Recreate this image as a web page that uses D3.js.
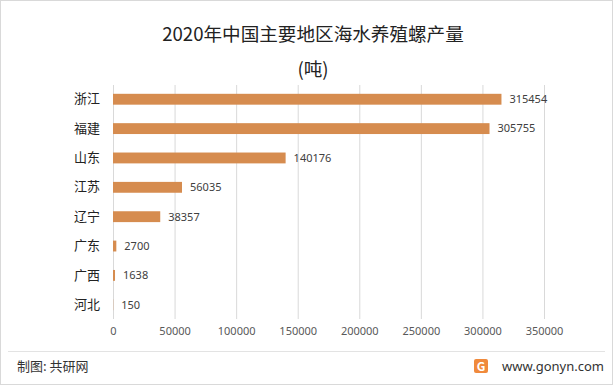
<!DOCTYPE html>
<html>
<head>
<meta charset="utf-8">
<script src="https://cdn.jsdelivr.net/npm/d3@7"></script>
<style>
  body { margin: 0; background: #fff; }
  text { font-family: "Noto Sans CJK SC", "Noto Sans", sans-serif; }
</style>
</head>
<body>
<svg width="613" height="385"></svg>
<script>
var regions = ["浙江", "福建", "山东", "江苏", "辽宁", "广东", "广西", "河北"];
var output = [315454, 305755, 140176, 56035, 38357, 2700, 1638, 150];
var ticks = [0, 50000, 100000, 150000, 200000, 250000, 300000, 350000];

var svg = d3.select("svg"),
    width = +svg.attr("width"),
    height = +svg.attr("height"),
    margin = {top: 85, right: 69, bottom: 66, left: 113};

// outer frame
svg.append("rect")
    .attr("x", 0.5).attr("y", 0.5)
    .attr("width", width - 1).attr("height", height - 1)
    .attr("fill", "#fff").attr("stroke", "#d9d9d9");

svg.append("text")
    .attr("x", 313).attr("y", 41)
    .attr("text-anchor", "middle")
    .attr("font-size", 18.6).attr("fill", "#222")
    .text("2020年中国主要地区海水养殖螺产量");
svg.append("text")
    .attr("x", 313).attr("y", 76)
    .attr("text-anchor", "middle")
    .attr("font-size", 18.6).attr("fill", "#222")
    .text("(吨)");

var x = d3.scaleLinear()
    .domain([0, 350000])
    .range([margin.left, width - margin.right]);

var y = d3.scaleBand()
    .domain(regions)
    .range([margin.top, height - margin.bottom])
    .paddingInner(0.63)
    .paddingOuter(0.3);

// gridlines
svg.append("g")
    .selectAll("line")
    .data(ticks)
    .enter().append("line")
    .attr("x1", d => x(d) + 0.5).attr("x2", d => x(d) + 0.5)
    .attr("y1", margin.top).attr("y2", height - margin.bottom)
    .attr("stroke", "#d9d9d9");

var xAxis = svg.append("g")
    .attr("transform", "translate(0," + (height - margin.bottom) + ")")
    .call(d3.axisBottom(x).tickValues(ticks).tickSize(0).tickPadding(8).tickFormat(d3.format("d")));
xAxis.select(".domain").remove();
xAxis.selectAll("text")
    .attr("font-size", 11).attr("fill", "#595959")
    .style("font-family", "'Noto Sans', sans-serif");

var yAxis = svg.append("g")
    .attr("transform", "translate(" + (margin.left - 13) + ",0)")
    .call(d3.axisLeft(y).tickSize(0).tickPadding(0));
yAxis.select(".domain").remove();
yAxis.selectAll("text")
    .attr("font-size", 13).attr("fill", "#222");

var bar = svg.append("g")
    .selectAll(".bar")
    .data(regions)
    .enter().append("g")
    .attr("class", "bar");

bar.append("rect")
    .attr("x", x(0))
    .attr("y", d => y(d))
    .attr("height", y.bandwidth())
    .attr("width", (d, i) => x(output[i]) - x(0))
    .attr("fill", "#d68c4f");

bar.append("text")
    .attr("x", (d, i) => x(output[i]) + 8)
    .attr("y", d => y(d) + y.bandwidth() / 2)
    .attr("dy", "0.35em")
    .attr("font-size", 11).attr("fill", "#404040")
    .style("font-family", "'Noto Sans', sans-serif")
    .text((d, i) => output[i]);

// footer
svg.append("line")
    .attr("x1", 8).attr("x2", width - 8)
    .attr("y1", 351.5).attr("y2", 351.5)
    .attr("stroke", "#e3e3e3");
svg.append("text")
    .attr("x", 17).attr("y", 371)
    .attr("font-size", 13).attr("fill", "#333")
    .text("制图: 共研网");

var logo = svg.append("g").attr("transform", "translate(474,359)");
logo.append("rect")
    .attr("width", 14).attr("height", 14).attr("rx", 2)
    .attr("fill", "#f08a3c");
logo.append("text")
    .attr("x", 7).attr("y", 11.5)
    .attr("text-anchor", "middle")
    .attr("font-size", 12).attr("font-weight", "bold").attr("fill", "#fff")
    .text("G");
svg.append("text")
    .attr("x", 604).attr("y", 371)
    .attr("text-anchor", "end")
    .attr("font-size", 13).attr("fill", "#333")
    .style("font-family", "'Noto Sans', sans-serif")
    .text("www.gonyn.com");
</script>
</body>
</html>
